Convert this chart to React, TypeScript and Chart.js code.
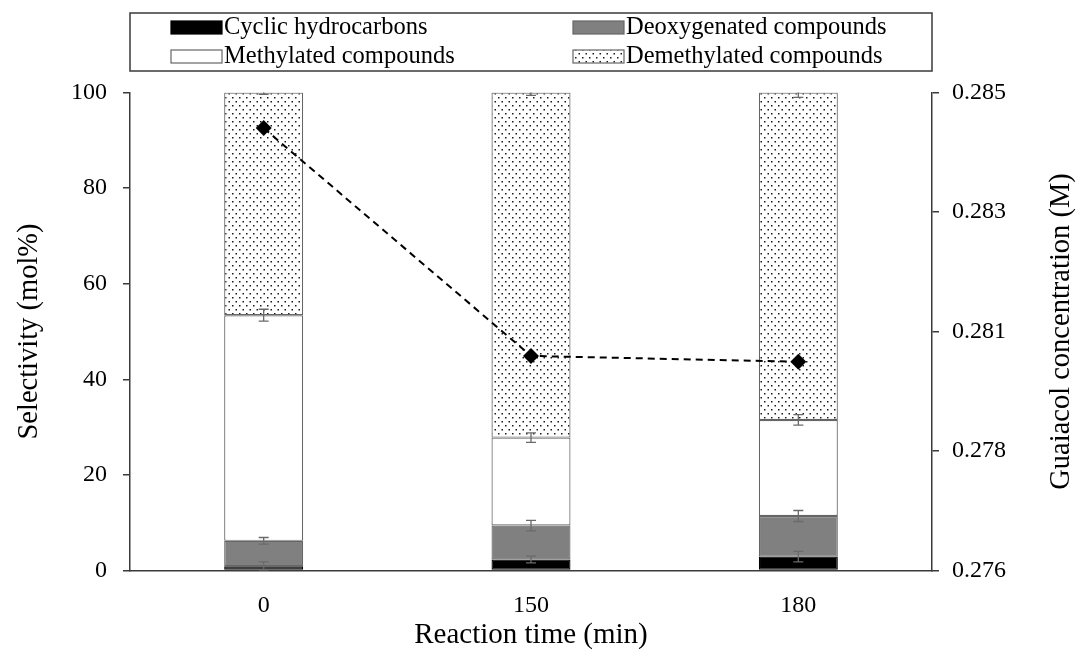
import { useEffect, useRef } from "react";
import { Chart, registerables } from "chart.js";

Chart.register(...registerables);

// Reaction times (min)
const categories = ["0", "150", "180"];

// Product selectivity (mol%), stacked
const cyclic = [0.9, 2.3, 2.9];
const deoxygenated = [5.3, 7.1, 8.5];
const methylated = [47.2, 18.4, 20.1];
const demethylated = [46.6, 72.2, 68.5];

// Standard deviations for each stacked segment
const cyclicErr = [0.9, 0.7, 1.1];
const deoxygenatedErr = [0.7, 1.1, 1.15];
const methylatedErr = [1.25, 1.0, 1.1];
const demethylatedErr = [0.4, 0.6, 1.0];

// Guaiacol concentration (M)
const guaiacol = [0.28433, 0.28004, 0.27993];

// Axis ticks
const leftTicks = [0, 20, 40, 60, 80, 100];
const rightTickValues = [0.276, 0.27825, 0.2805, 0.28275, 0.285];
const rightTickLabels = ["0.276", "0.278", "0.281", "0.283", "0.285"];

const seriesNames = [
  "Cyclic hydrocarbons",
  "Deoxygenated compounds",
  "Methylated compounds",
  "Demethylated compounds",
];
const rightTitle = "Guaiacol concentration (M)";

const FONT = "'Liberation Serif', 'Times New Roman', serif";
const AXIS = "#3a3a3a";
const BAR_EDGE = "#666666";

function makeDotPattern(): CanvasPattern | string {
  const tile = document.createElement("canvas");
  tile.width = 7;
  tile.height = 8;
  const c = tile.getContext("2d");
  if (!c) return "#ffffff";
  c.fillStyle = "#ffffff";
  c.fillRect(0, 0, 7, 8);
  c.fillStyle = "#1a1a1a";
  c.fillRect(1, 1, 1.5, 1.5);
  c.fillRect(4.5, 5, 1.5, 1.5);
  const p = c.createPattern(tile, "repeat");
  return p ?? "#ffffff";
}

export default function App() {
  const ref = useRef<HTMLCanvasElement>(null);

  useEffect(() => {
    document.body.style.margin = "0";
    const canvas = ref.current;
    if (!canvas) return;

    const dots = makeDotPattern();
    const fills: (string | CanvasPattern)[] = ["#000000", "#808080", "#ffffff", dots];
    const values = [cyclic, deoxygenated, methylated, demethylated];
    const errors = [cyclicErr, deoxygenatedErr, methylatedErr, demethylatedErr];

    // Error bars at the top of each stacked segment
    const errorBars = {
      id: "errorBars",
      beforeDatasetDraw(chart: any, args: any) {
        if (args.index !== 4) return;
        const { ctx, chartArea } = chart;
        const yScale = chart.scales.y;
        ctx.save();
        ctx.beginPath();
        ctx.rect(chartArea.left, chartArea.top, chartArea.right - chartArea.left, chartArea.bottom - chartArea.top);
        ctx.clip();
        ctx.strokeStyle = "#6a6a6a";
        ctx.lineWidth = 1.3;
        for (let i = 0; i < categories.length; i++) {
          let cum = 0;
          for (let s = 0; s < values.length; s++) {
            cum += values[s][i];
            const bar = chart.getDatasetMeta(s).data[i];
            const x = bar.x;
            const yTop = yScale.getPixelForValue(cum + errors[s][i]);
            const yBot = yScale.getPixelForValue(cum - errors[s][i]);
            ctx.beginPath();
            ctx.moveTo(x, yTop);
            ctx.lineTo(x, yBot);
            ctx.moveTo(x - 5, yTop);
            ctx.lineTo(x + 5, yTop);
            ctx.moveTo(x - 5, yBot);
            ctx.lineTo(x + 5, yBot);
            ctx.stroke();
          }
        }
        ctx.restore();
      },
    };

    // Boxed two-column legend above the plot, and the right axis title read bottom-to-top
    const boxLegend = {
      id: "boxLegend",
      afterDraw(chart: any) {
        const { ctx, chartArea } = chart;
        const left = chartArea.left;
        const right = chartArea.right;
        const top = 13;
        const bottom = 71;
        ctx.save();
        ctx.strokeStyle = AXIS;
        ctx.lineWidth = 1.5;
        ctx.strokeRect(left, top, right - left, bottom - top);
        ctx.font = `24.5px ${FONT}`;
        ctx.textBaseline = "middle";
        ctx.textAlign = "left";
        const cols = [left + 41, left + 443];
        const rows = [27.5, 56.5];
        [0, 1, 2, 3].forEach((s, k) => {
          const x = cols[k % 2];
          const y = rows[Math.floor(k / 2)];
          ctx.fillStyle = fills[s];
          ctx.fillRect(x, y - 6.5, 51, 13);
          ctx.strokeStyle = s === 0 ? "#000000" : BAR_EDGE;
          ctx.lineWidth = 1.2;
          ctx.strokeRect(x, y - 6.5, 51, 13);
          ctx.fillStyle = "#000000";
          ctx.fillText(seriesNames[s], x + 53, y);
        });

        ctx.translate(1062, (chartArea.top + chartArea.bottom) / 2);
        ctx.rotate(-Math.PI / 2);
        ctx.font = `28.5px ${FONT}`;
        ctx.textAlign = "center";
        ctx.textBaseline = "middle";
        ctx.fillStyle = "#000000";
        ctx.fillText(rightTitle, 0, 0);
        ctx.restore();
      },
    };

    const barSets = values.map((data, s) => ({
      type: "bar" as const,
      label: seriesNames[s],
      data,
      backgroundColor: fills[s],
      borderColor: s === 0 ? "#000000" : BAR_EDGE,
      borderWidth: 1.2,
      borderSkipped: false,
      stack: "sel",
      yAxisID: "y",
      barPercentage: 0.2955,
      categoryPercentage: 1,
      order: 1,
    }));

    const chart = new Chart(canvas, {
      type: "bar",
      data: {
        labels: categories,
        datasets: [
          ...barSets,
          {
            type: "line" as const,
            label: "Guaiacol concentration",
            data: guaiacol,
            yAxisID: "y1",
            borderColor: "#000000",
            borderWidth: 2,
            borderDash: [7, 5],
            pointStyle: "rectRot",
            pointRadius: 8,
            pointBackgroundColor: "#000000",
            pointBorderColor: "#000000",
            pointBorderWidth: 0,
            fill: false,
            tension: 0,
            order: 0,
          } as any,
        ],
      },
      options: {
        responsive: false,
        animation: false,
        devicePixelRatio: 1,
        layout: { padding: { top: 92.5, left: 0, right: 0, bottom: 0 } },
        plugins: {
          legend: { display: false },
          tooltip: { enabled: false },
        },
        scales: {
          x: {
            stacked: true,
            offset: true,
            grid: { display: false, drawTicks: false, tickLength: 0 },
            border: { display: true, color: AXIS, width: 1.5 },
            ticks: { color: "#000000", font: { family: FONT, size: 24 }, padding: 21 },
            title: {
              display: true,
              text: "Reaction time (min)",
              color: "#000000",
              font: { family: FONT, size: 29, lineHeight: 1 },
              padding: { top: 0, bottom: 14.5 },
            },
            afterFit: (s: any) => {
              s.height = 93.5;
            },
          },
          y: {
            stacked: true,
            position: "left",
            min: 0,
            max: 100,
            afterBuildTicks: (s: any) => {
              s.ticks = leftTicks.map((v) => ({ value: v }));
            },
            grid: { display: true, drawOnChartArea: false, drawTicks: true, tickLength: 7, color: AXIS, lineWidth: 1.5 },
            border: { display: true, color: AXIS, width: 1.5 },
            ticks: { color: "#000000", font: { family: FONT, size: 24 }, padding: 16 },
            title: {
              display: true,
              text: "Selectivity (mol%)",
              color: "#000000",
              font: { family: FONT, size: 28.5, lineHeight: 1 },
              padding: { top: 15.75, bottom: 0 },
            },
            afterFit: (s: any) => {
              s.width = 130;
            },
          },
          y1: {
            position: "right",
            min: 0.276,
            max: 0.285,
            afterBuildTicks: (s: any) => {
              s.ticks = rightTickValues.map((v) => ({ value: v }));
            },
            grid: { display: true, drawOnChartArea: false, drawTicks: true, tickLength: 7, color: AXIS, lineWidth: 1.5 },
            border: { display: true, color: AXIS, width: 1.5 },
            ticks: {
              color: "#000000",
              font: { family: FONT, size: 24 },
              padding: 13,
              callback: (_v: any, i: number) => rightTickLabels[i],
            },
            title: { display: false },
            afterFit: (s: any) => {
              s.width = 144;
            },
          },
        },
      } as any,
      plugins: [errorBars, boxLegend],
    });

    return () => chart.destroy();
  }, []);

  return (
    <div style={{ width: 1076, height: 664, background: "#ffffff" }}>
      <canvas ref={ref} width={1076} height={664} style={{ display: "block" }} />
    </div>
  );
}
